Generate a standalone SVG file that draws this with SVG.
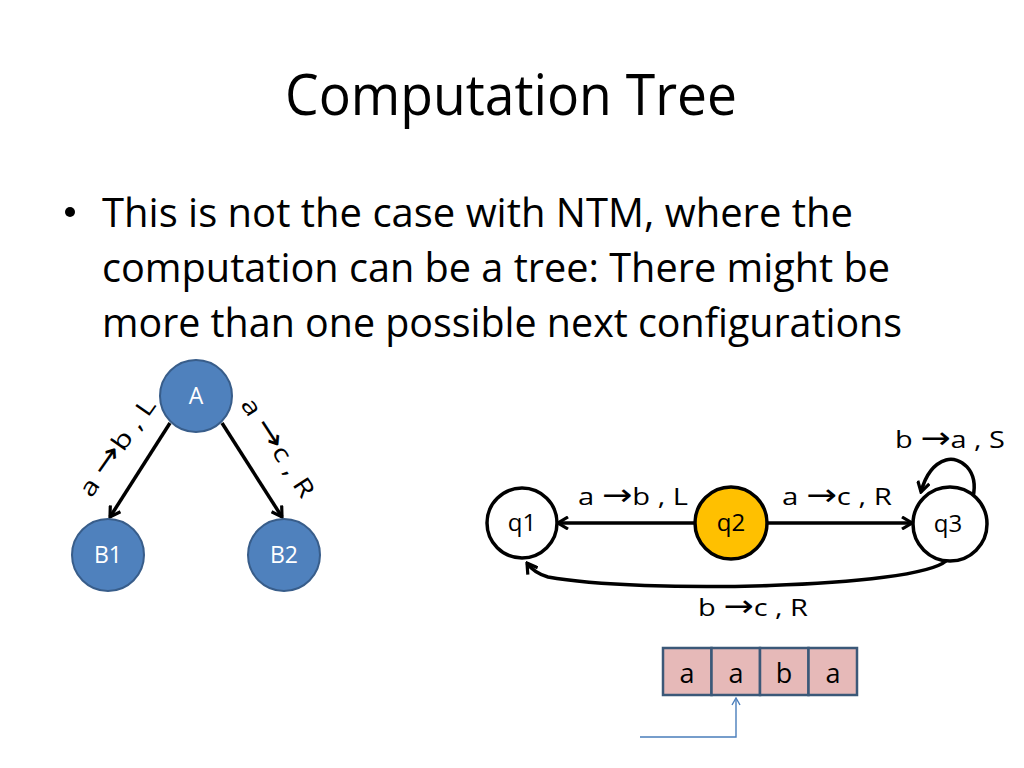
<svg xmlns="http://www.w3.org/2000/svg" width="1024" height="768" viewBox="0 0 1024 768">
<style>
  text { font-family: "Open Sans", "Liberation Sans", sans-serif; fill: #000; }
  .title { font-size: 56px; }
  .body { font-size: 40px; }
  .lbl { font-size: 24px; }
  .arr { font-family: "DejaVu Sans", sans-serif; font-size: 30px; }
  .wlbl { font-size: 23px; fill: #fff; }
  .tree { fill: #4F81BD; stroke: #385D8A; stroke-width: 2; }
  .st { fill: #fff; stroke: #000; stroke-width: 3.5; }
  .edge { fill: none; stroke: #000; stroke-width: 3.5; }
  .cell { fill: #E6B9B8; stroke: #3B5878; stroke-width: 2.5; }
  .tape { font-size: 27px; }
</style>
<defs>
  <marker id="ah" viewBox="0 0 14 14" refX="12" refY="7" markerWidth="14" markerHeight="14" markerUnits="userSpaceOnUse" orient="auto">
    <path d="M2,1 L12,7 L2,13" fill="none" stroke="#000" stroke-width="3.2"/>
  </marker>
  <marker id="ahb" viewBox="0 0 10 10" refX="9" refY="5" markerWidth="10" markerHeight="10" markerUnits="userSpaceOnUse" orient="auto">
    <path d="M2,1 L9,5 L2,9" fill="none" stroke="#4A7EBB" stroke-width="1.4"/>
  </marker>
</defs>
<rect width="1024" height="768" fill="#fff"/>

<g id="title">
  <text class="title" x="511" y="115" text-anchor="middle" textLength="452" lengthAdjust="spacingAndGlyphs">Computation Tree</text>
</g>

<g id="bullet">
  <circle cx="70" cy="212" r="5" fill="#000"/>
  <text class="body" x="102" y="227" textLength="751" lengthAdjust="spacingAndGlyphs">This is not the case with NTM, where the</text>
  <text class="body" x="102" y="282" textLength="788" lengthAdjust="spacingAndGlyphs">computation can be a tree: There might be</text>
  <text class="body" x="102" y="337" textLength="800" lengthAdjust="spacingAndGlyphs">more than one possible next configurations</text>
</g>

<g id="connectors">
  <line class="edge" x1="170" y1="423" x2="110" y2="517" marker-end="url(#ah)"/>
  <line class="edge" x1="222" y1="423" x2="282" y2="517" marker-end="url(#ah)"/>
  <line class="edge" x1="695" y1="523" x2="558" y2="523" marker-end="url(#ah)"/>
  <line class="edge" x1="768" y1="523" x2="912" y2="523" marker-end="url(#ah)"/>
  <path class="edge" d="M973,497 C979,470 960,456 946,460 C933,464 925,477 921,492" marker-end="url(#ah)"/>
  <path class="edge" d="M946,561 C915,588 640,594 548,577 Q534,573 527,563" marker-end="url(#ah)"/>
  <path d="M640,737 H736 V698" fill="none" stroke="#4A7EBB" stroke-width="1.4" marker-end="url(#ahb)"/>
</g>

<g id="edge-labels">
  <text class="lbl" transform="translate(124,452) rotate(-55)" text-anchor="middle" textLength="114" lengthAdjust="spacingAndGlyphs">a <tspan class="arr">→</tspan>b , L</text>
  <text class="lbl" transform="translate(271,452) rotate(57)" text-anchor="middle" textLength="114" lengthAdjust="spacingAndGlyphs">a <tspan class="arr">→</tspan>c , R</text>
  <text class="lbl" x="578" y="505" textLength="110" lengthAdjust="spacingAndGlyphs">a <tspan class="arr">→</tspan>b , L</text>
  <text class="lbl" x="782" y="505" textLength="110" lengthAdjust="spacingAndGlyphs">a <tspan class="arr">→</tspan>c , R</text>
  <text class="lbl" x="895" y="448" textLength="110" lengthAdjust="spacingAndGlyphs">b <tspan class="arr">→</tspan>a , S</text>
  <text class="lbl" x="698" y="616" textLength="110" lengthAdjust="spacingAndGlyphs">b <tspan class="arr">→</tspan>c , R</text>
</g>

<g id="node-A">
  <circle class="tree" cx="196" cy="396" r="36"/>
  <text class="wlbl" x="196" y="404" text-anchor="middle">A</text>
</g>
<g id="node-B1">
  <circle class="tree" cx="108" cy="555" r="36"/>
  <text class="wlbl" x="108" y="563" text-anchor="middle">B1</text>
</g>
<g id="node-B2">
  <circle class="tree" cx="284" cy="555" r="36"/>
  <text class="wlbl" x="284" y="563" text-anchor="middle">B2</text>
</g>

<g id="node-q1">
  <circle class="st" cx="522" cy="523" r="35"/>
  <text class="lbl" x="522" y="531" text-anchor="middle">q1</text>
</g>
<g id="node-q2">
  <circle class="st" cx="731" cy="523" r="36" style="fill:#FFC000"/>
  <text class="lbl" x="731" y="531" text-anchor="middle">q2</text>
</g>
<g id="node-q3">
  <circle class="st" cx="950" cy="524" r="37"/>
  <text class="lbl" x="948" y="532" text-anchor="middle">q3</text>
</g>

<g id="tape">
  <rect class="cell" x="663" y="648" width="48.5" height="47"/>
  <rect class="cell" x="711.5" y="648" width="48.5" height="47"/>
  <rect class="cell" x="760" y="648" width="48.5" height="47"/>
  <rect class="cell" x="808.5" y="648" width="48.5" height="47"/>
  <text class="tape" x="687" y="683" text-anchor="middle">a</text>
  <text class="tape" x="736" y="683" text-anchor="middle">a</text>
  <text class="tape" x="784" y="683" text-anchor="middle">b</text>
  <text class="tape" x="833" y="683" text-anchor="middle">a</text>
</g>
</svg>
